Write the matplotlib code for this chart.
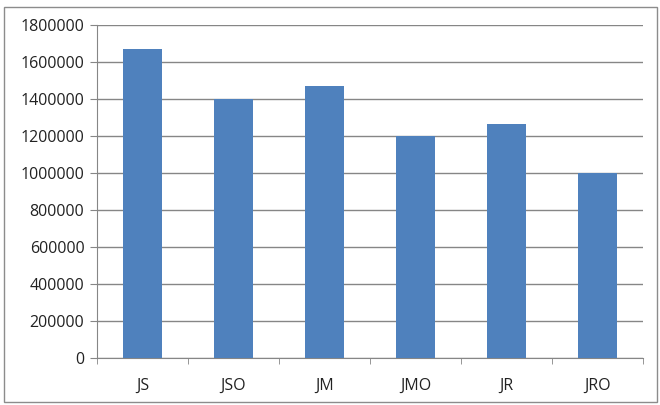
import matplotlib.pyplot as plt
from matplotlib.patches import Rectangle

plt.rcParams['font.family'] = ['Open Sans', 'DejaVu Sans']

categories = ['JS', 'JSO', 'JM', 'JMO', 'JR', 'JRO']
values = [1670000, 1400000, 1470000, 1200000, 1265000, 1000000]
yticks = [0, 200000, 400000, 600000, 800000, 1000000, 1200000, 1400000, 1600000, 1800000]

fig = plt.figure(figsize=(6.6, 4.05), dpi=100)
ax = fig.add_axes([97 / 660, 1 - 358 / 405, (643 - 97) / 660, (358 - 25) / 405])

# outer chart border
fig.patches.append(Rectangle((4 / 660, 1 - 402 / 405), 653 / 660, 395 / 405,
                             transform=fig.transFigure, fill=False,
                             edgecolor='#8c8c8c', linewidth=1))

x = range(len(categories))
ax.bar(x, values, width=0.42, color='#4f81bd', zorder=3)

ax.set_xlim(-0.5, len(categories) - 0.5)
ax.set_ylim(0, 1800000)
ax.set_yticks(yticks)
ax.set_yticklabels([str(v) for v in yticks], fontsize=11.5, color='#222222')
ax.set_xticks(list(x))
ax.set_xticklabels(categories, fontsize=11.5, color='#222222')
ax.tick_params(axis='x', length=0, pad=14)
ax.set_xticks([i - 0.5 for i in range(len(categories) + 1)], minor=True)
ax.tick_params(axis='x', which='minor', length=4, color='#868686', direction='out')
ax.tick_params(axis='y', length=5, color='#868686', direction='out', pad=4)

ax.grid(axis='y', color='#868686', linewidth=1, zorder=0)
for s in ['top', 'right']:
    ax.spines[s].set_visible(False)
ax.spines['left'].set_color('#868686')
ax.spines['bottom'].set_color('#868686')

fig.savefig('out.png', dpi=100)
